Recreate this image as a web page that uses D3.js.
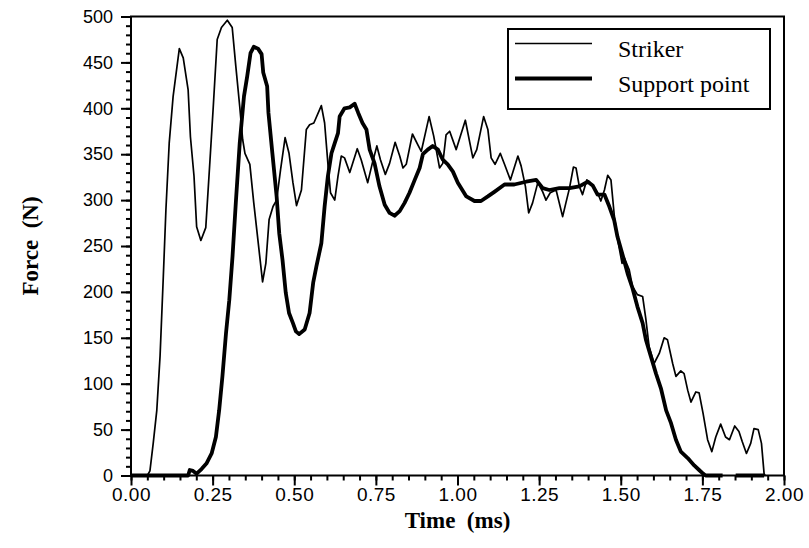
<!DOCTYPE html>
<html>
<head>
<meta charset="utf-8">
<script src="https://cdn.jsdelivr.net/npm/d3@7"></script>
<style>
  html, body { margin: 0; padding: 0; background: #fff; }
  svg { display: block; }
</style>
</head>
<body>
<svg id="chart" width="809" height="548"></svg>
<script>
// Striker force history (time in ms, force in N)
const strikerTime = [0.000,0.050,0.058,0.068,0.079,0.089,0.099,0.107,0.117,0.129,0.148,0.160,0.175,0.182,0.193,0.201,0.214,0.229,0.242,0.252,0.264,0.277,0.295,0.310,0.321,0.333,0.342,0.349,0.364,0.376,0.392,0.403,0.413,0.423,0.435,0.446,0.458,0.472,0.484,0.496,0.507,0.522,0.537,0.547,0.560,0.583,0.593,0.603,0.611,0.624,0.634,0.644,0.654,0.670,0.693,0.705,0.725,0.739,0.753,0.764,0.779,0.792,0.809,0.823,0.833,0.843,0.862,0.879,0.889,0.913,0.927,0.945,0.955,0.965,0.976,0.996,1.024,1.047,1.059,1.080,1.093,1.103,1.115,1.131,1.144,1.162,1.185,1.195,1.208,1.218,1.230,1.246,1.261,1.271,1.284,1.302,1.322,1.332,1.343,1.355,1.363,1.373,1.383,1.396,1.404,1.429,1.439,1.450,1.460,1.470,1.480,1.490,1.504,1.511,1.526,1.536,1.551,1.567,1.577,1.587,1.602,1.618,1.633,1.643,1.659,1.669,1.684,1.694,1.705,1.715,1.730,1.740,1.752,1.766,1.779,1.791,1.806,1.821,1.833,1.849,1.862,1.872,1.885,1.898,1.908,1.921,1.931,1.939,1.942];
const strikerForce = [0,0,5,35,71,130,217,290,362,413,465,455,420,369,326,271,256,270,344,402,475,488,496,488,446,402,366,351,339,297,246,211,231,279,293,300,333,368,351,319,294,311,377,382,384,403,384,340,308,300,326,348,346,330,356,344,319,340,359,344,328,340,363,348,335,339,372,360,353,391,370,335,340,371,375,355,387,346,355,391,377,346,339,351,339,322,348,337,315,286,297,319,309,300,308,311,282,297,313,336,335,315,306,322,320,308,299,311,327,322,284,258,231,237,224,206,197,195,170,140,122,133,150,148,122,108,114,111,93,80,91,90,68,39,26,42,56,42,39,54,48,37,24,35,51,50,35,2,0];

// Support point force history; null marks a gap in the record
const supportTime = [0.000,0.175,0.180,0.190,0.201,0.216,0.231,0.247,0.260,0.270,0.280,0.291,0.301,0.311,0.321,0.333,0.346,0.356,0.366,0.376,0.389,0.400,0.405,0.417,0.421,0.433,0.446,0.454,0.464,0.474,0.484,0.496,0.505,0.515,0.532,0.547,0.553,0.558,0.568,0.583,0.593,0.603,0.614,0.624,0.634,0.639,0.654,0.670,0.685,0.696,0.709,0.721,0.731,0.746,0.761,0.777,0.792,0.807,0.823,0.838,0.853,0.869,0.884,0.894,0.909,0.924,0.940,0.955,0.970,0.986,1.001,1.027,1.052,1.072,1.093,1.113,1.144,1.174,1.210,1.241,1.261,1.281,1.312,1.343,1.373,1.399,1.414,1.429,1.450,1.465,1.480,1.490,1.506,1.521,1.536,1.551,1.567,1.577,1.592,1.608,1.623,1.639,1.654,1.669,1.684,1.705,1.725,1.740,1.752,1.760,1.812,1.830,1.852,1.939];
const supportForce = [0,0,6,5,2,7,13,24,42,71,108,155,191,239,297,362,413,435,460,467,465,459,439,424,395,351,304,264,235,199,177,166,157,154,159,177,195,210,228,253,293,326,351,362,373,391,400,401,405,395,384,377,355,340,315,295,286,283,288,297,308,322,335,350,355,359,355,344,339,331,319,304,299,299,304,309,317,317,320,322,313,311,313,313,315,320,316,306,306,293,278,260,240,220,204,184,166,148,130,111,95,71,57,39,26,19,11,6,2,0,0,null,0,0];

// Axis ticks
const xMajorTicks = [0, 0.25, 0.5, 0.75, 1.0, 1.25, 1.5, 1.75, 2.0];
const yMajorTicks = [0, 50, 100, 150, 200, 250, 300, 350, 400, 450, 500];
const xMinorStep = 0.05;
const yMinorStep = 10;

// Series labels
const seriesNames = ["Striker", "Support point"];

const svg = d3.select("#chart");
const margin = { left: 131, top: 16.5, right: 25, bottom: 72.5 };
const width = 809 - margin.left - margin.right;
const height = 548 - margin.top - margin.bottom;

const x = d3.scaleLinear().domain([0, 2]).range([0, width]);
const y = d3.scaleLinear().domain([0, 500]).range([height, 0]);

const g = svg.append("g").attr("transform", `translate(${margin.left},${margin.top})`);

const tickFont = "'Liberation Sans', Arial, Helvetica, sans-serif";
const serifFont = "'Liberation Serif', 'Times New Roman', Times, serif";

// Minor ticks
const xMinor = d3.range(0, 2 + 1e-9, xMinorStep);
const yMinor = d3.range(0, 500 + 1e-9, yMinorStep);

g.append("g")
  .attr("transform", `translate(0,${height})`)
  .call(d3.axisBottom(x).tickValues(xMinor).tickSize(5).tickFormat(""))
  .call(a => a.select(".domain").remove())
  .call(a => a.selectAll("line").attr("stroke", "#000").attr("stroke-width", 2));

g.append("g")
  .call(d3.axisLeft(y).tickValues(yMinor).tickSize(5).tickFormat(""))
  .call(a => a.select(".domain").remove())
  .call(a => a.selectAll("line").attr("stroke", "#000").attr("stroke-width", 2));

// Major ticks with labels
const xAxis = g.append("g")
  .attr("transform", `translate(0,${height})`)
  .call(d3.axisBottom(x).tickValues(xMajorTicks).tickSize(10).tickPadding(2).tickFormat(d3.format(".2f")));
xAxis.select(".domain").remove();
xAxis.selectAll("line").attr("stroke", "#000").attr("stroke-width", 2);
xAxis.selectAll("text")
  .attr("font-family", tickFont).attr("font-size", 19).attr("fill", "#000")
  .attr("letter-spacing", "0.5px");

const yAxis = g.append("g")
  .call(d3.axisLeft(y).tickValues(yMajorTicks).tickSize(10).tickPadding(8).tickFormat(d3.format("d")));
yAxis.select(".domain").remove();
yAxis.selectAll("line").attr("stroke", "#000").attr("stroke-width", 2);
yAxis.selectAll("text")
  .attr("font-family", tickFont).attr("font-size", 18).attr("fill", "#000");

// Plot frame
g.append("rect")
  .attr("x", 0).attr("y", 0).attr("width", width).attr("height", height)
  .attr("fill", "none").attr("stroke", "#000").attr("stroke-width", 2);

// Curves
const strikerData = strikerTime.map((t, i) => ({ t, f: strikerForce[i] }));
const supportData = supportTime.map((t, i) => ({ t, f: supportForce[i] }));

const line = d3.line()
  .defined(d => d.f !== null)
  .x(d => x(d.t))
  .y(d => y(d.f));

g.append("path")
  .datum(strikerData)
  .attr("d", line)
  .attr("fill", "none").attr("stroke", "#000")
  .attr("stroke-width", 1.7).attr("stroke-linejoin", "round");

g.append("path")
  .datum(supportData)
  .attr("d", line)
  .attr("fill", "none").attr("stroke", "#000")
  .attr("stroke-width", 3.8).attr("stroke-linejoin", "round");

// Legend
const legend = svg.append("g").attr("transform", "translate(508,29)");
legend.append("rect")
  .attr("width", 262).attr("height", 80)
  .attr("fill", "#fff").attr("stroke", "#000").attr("stroke-width", 2);
const legendWidths = [1.7, 3.8];
const legendRows = [14.5, 49.5];
seriesNames.forEach((name, i) => {
  legend.append("line")
    .attr("x1", 7).attr("x2", 84)
    .attr("y1", legendRows[i]).attr("y2", legendRows[i])
    .attr("stroke", "#000").attr("stroke-width", legendWidths[i]);
  legend.append("text")
    .attr("x", 110).attr("y", legendRows[i] + 13)
    .attr("font-family", serifFont).attr("font-size", 24)
    .attr("fill", "#000")
    .text(name);
});

// Axis titles
svg.append("text")
  .attr("x", margin.left + width / 2).attr("y", 528)
  .attr("text-anchor", "middle")
  .attr("font-family", serifFont).attr("font-size", 23).attr("font-weight", "bold")
  .attr("xml:space", "preserve").style("white-space", "pre")
  .text("Time  (ms)");

svg.append("text")
  .attr("transform", `translate(38,${margin.top + height / 2}) rotate(-90)`)
  .attr("text-anchor", "middle")
  .attr("font-family", serifFont).attr("font-size", 23).attr("font-weight", "bold")
  .attr("xml:space", "preserve").style("white-space", "pre")
  .text("Force  (N)");
</script>
</body>
</html>
